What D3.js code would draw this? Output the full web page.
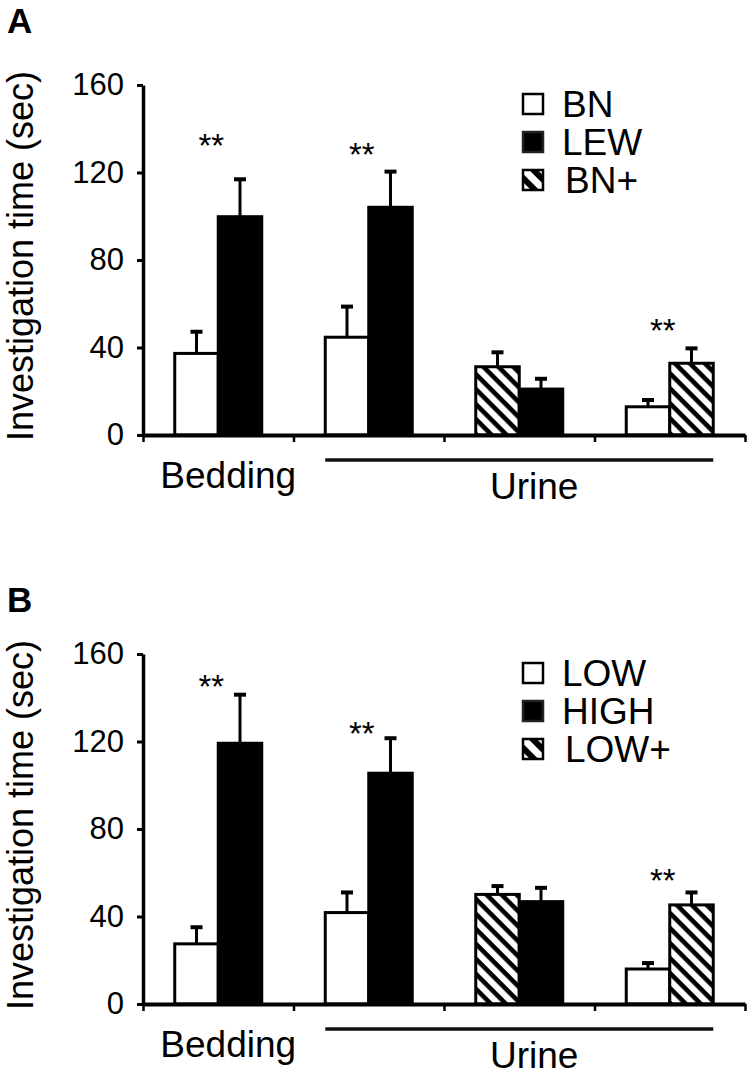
<!DOCTYPE html>
<html>
<head>
<meta charset="utf-8">
<script src="https://cdn.jsdelivr.net/npm/d3@7"></script>
<style>
  html, body { margin: 0; padding: 0; background: #fff; }
  svg { display: block; }
  text { font-family: "Liberation Sans", Arial, sans-serif; fill: #000; }
</style>
</head>
<body>
<svg id="chart" width="748" height="1079"></svg>
<script>
// ---------------- DATA ----------------
const slots = [0, 1, 2, 3];
const yTicks = [0, 40, 80, 120, 160];
const groupLabels = ["Bedding", "Urine"];

// series index per bar position (0 = open, 1 = filled, 2 = hatched)
const leftSeries  = [0, 0, 2, 0];
const rightSeries = [1, 1, 1, 2];

// Panel A
const legendA = ["BN", "LEW", "BN+"];
const meanA_left  = [37.3, 44.7, 31.2, 12.9];
const semA_left   = [9.9, 14.0, 6.6, 3.1];
const meanA_right = [99.8, 104.1, 21.0, 32.8];
const semA_right  = [17.1, 16.3, 4.7, 6.8];
const starA_slots = [0, 1, 3];
const starA_level = [136, 131.5, 51];

// Panel B
const legendB = ["LOW", "HIGH", "LOW+"];
const meanB_left  = [27.5, 41.8, 50.1, 16.0];
const semB_left   = [7.6, 9.2, 3.8, 2.7];
const meanB_right = [119.2, 105.5, 46.8, 45.3];
const semB_right  = [22.2, 16.0, 6.3, 5.7];
const starB_slots = [0, 1, 3];
const starB_level = [148.5, 127, 60];

// ---------------- DRAW ----------------
const svg = d3.select("#chart");
const defs = svg.append("defs");

function makeHatch(id, size, stripe) {
  const p = defs.append("pattern")
    .attr("id", id)
    .attr("patternUnits", "userSpaceOnUse")
    .attr("width", size).attr("height", size)
    .attr("patternTransform", "rotate(45)");
  p.append("rect").attr("width", size).attr("height", size).attr("fill", "#fff");
  p.append("rect").attr("x", 0).attr("y", 0).attr("width", size).attr("height", stripe).attr("fill", "#000");
}
makeHatch("hatch", 10.6, 4.6);
makeHatch("hatchLegend", 13, 6);

const fills = ["#fff", "#000", "url(#hatch)"];
const legendFills = ["#fff", "#000", "url(#hatchLegend)"];
const legendStroke = ["#000", "#222", "#000"];

function drawPanel(cfg) {
  const g = svg.append("g");
  const x = d3.scaleBand().domain(slots).range([143, 745]).paddingInner(0).paddingOuter(0);
  const xi = d3.scaleBand().domain(["L", "R"]).range([0, x.bandwidth()]).paddingInner(0).paddingOuter(0.73);
  const y = d3.scaleLinear().domain([0, 160]).range([cfg.y0, cfg.y0 - 350]);

  // panel letter
  g.append("text").attr("x", 7).attr("y", cfg.letterY)
    .style("font-size", "35px").style("font-weight", "bold").text(cfg.letter);

  // y label
  g.append("text")
    .attr("transform", `translate(33,${cfg.y0 - 179}) rotate(-90)`)
    .attr("text-anchor", "middle")
    .style("font-size", "36px")
    .text("Investigation time (sec)");

  // bars
  const bars = [];
  slots.forEach(i => {
    bars.push({ slot: i, pos: "L", s: leftSeries[i], v: cfg.meanL[i], e: cfg.semL[i] });
    bars.push({ slot: i, pos: "R", s: rightSeries[i], v: cfg.meanR[i], e: cfg.semR[i] });
  });

  // error bars (upper only)
  const eg = g.append("g");
  bars.forEach(b => {
    const cx = x(b.slot) + xi(b.pos) + xi.bandwidth() / 2;
    eg.append("line").attr("x1", cx).attr("x2", cx)
      .attr("y1", y(b.v)).attr("y2", y(b.v + b.e))
      .attr("stroke", "#000").attr("stroke-width", 3);
    eg.append("line").attr("x1", cx - 6).attr("x2", cx + 6)
      .attr("y1", y(b.v + b.e)).attr("y2", y(b.v + b.e))
      .attr("stroke", "#000").attr("stroke-width", 4);
  });

  g.append("g").selectAll("rect").data(bars).join("rect")
    .attr("x", d => x(d.slot) + xi(d.pos))
    .attr("y", d => y(d.v))
    .attr("width", xi.bandwidth())
    .attr("height", d => y(0) - y(d.v))
    .attr("fill", d => fills[d.s])
    .attr("stroke", "#000")
    .attr("stroke-width", 3);

  // y axis
  const ya = g.append("g").attr("transform", "translate(143,0)")
    .call(d3.axisLeft(y).tickValues(yTicks).tickSize(6).tickSizeOuter(0).tickPadding(13));
  ya.select(".domain").attr("stroke", "#000").attr("stroke-width", 3.5);
  ya.selectAll(".tick line").attr("stroke", "#000").attr("stroke-width", 3);
  ya.selectAll(".tick text").style("font-size", "31px")
    .style("font-family", '"Liberation Sans", Arial, sans-serif').attr("fill", "#000");

  // x axis
  const xl = d3.scaleLinear().domain([0, 4]).range([143, 745]);
  const xa = g.append("g").attr("transform", `translate(0,${cfg.y0})`)
    .call(d3.axisBottom(xl).tickValues([0, 1, 2, 3, 4]).tickFormat("").tickSize(7).tickSizeOuter(0));
  xa.select(".domain").attr("stroke", "#000").attr("stroke-width", 4);
  xa.selectAll(".tick line").attr("stroke", "#000").attr("stroke-width", 2.5);

  // group labels
  g.append("text").attr("x", x(0) + x.bandwidth() / 2 + 10).attr("y", cfg.y0 + 53)
    .attr("text-anchor", "middle").style("font-size", "37px").text(groupLabels[0]);
  const ux1 = x(1) + xi("L");
  const ux2 = x(3) + xi("R") + xi.bandwidth();
  g.append("line").attr("x1", ux1).attr("x2", ux2)
    .attr("y1", cfg.y0 + 25).attr("y2", cfg.y0 + 25)
    .attr("stroke", "#111").attr("stroke-width", 3.5);
  g.append("text").attr("x", x(2) + x.bandwidth() / 2 + 15).attr("y", cfg.y0 + 64)
    .attr("text-anchor", "middle").style("font-size", "37px").text(groupLabels[1]);

  // significance stars
  cfg.starSlots.forEach((s, k) => {
    g.append("text")
      .attr("x", x(s) + x.bandwidth() / 2 - 7)
      .attr("y", y(cfg.starLevel[k]) + 19)
      .attr("text-anchor", "middle")
      .style("font-size", "33px")
      .text("**");
  });

  // legend
  const lg = g.append("g");
  cfg.legend.forEach((name, k) => {
    const cy = cfg.y0 - 331 + k * 38;
    lg.append("rect").attr("x", 523).attr("y", cy - 10).attr("width", 20).attr("height", 20)
      .attr("fill", legendFills[k]).attr("stroke", legendStroke[k]).attr("stroke-width", 2.5);
    lg.append("text").attr("x", 562 + (k === 2 ? 3 : 0)).attr("y", cy + 13)
      .style("font-size", "37px").text(name);
  });
}

drawPanel({
  letter: "A", letterY: 33, y0: 435,
  meanL: meanA_left, semL: semA_left, meanR: meanA_right, semR: semA_right,
  starSlots: starA_slots, starLevel: starA_level, legend: legendA
});
drawPanel({
  letter: "B", letterY: 612, y0: 1004,
  meanL: meanB_left, semL: semB_left, meanR: meanB_right, semR: semB_right,
  starSlots: starB_slots, starLevel: starB_level, legend: legendB
});
</script>
</body>
</html>
